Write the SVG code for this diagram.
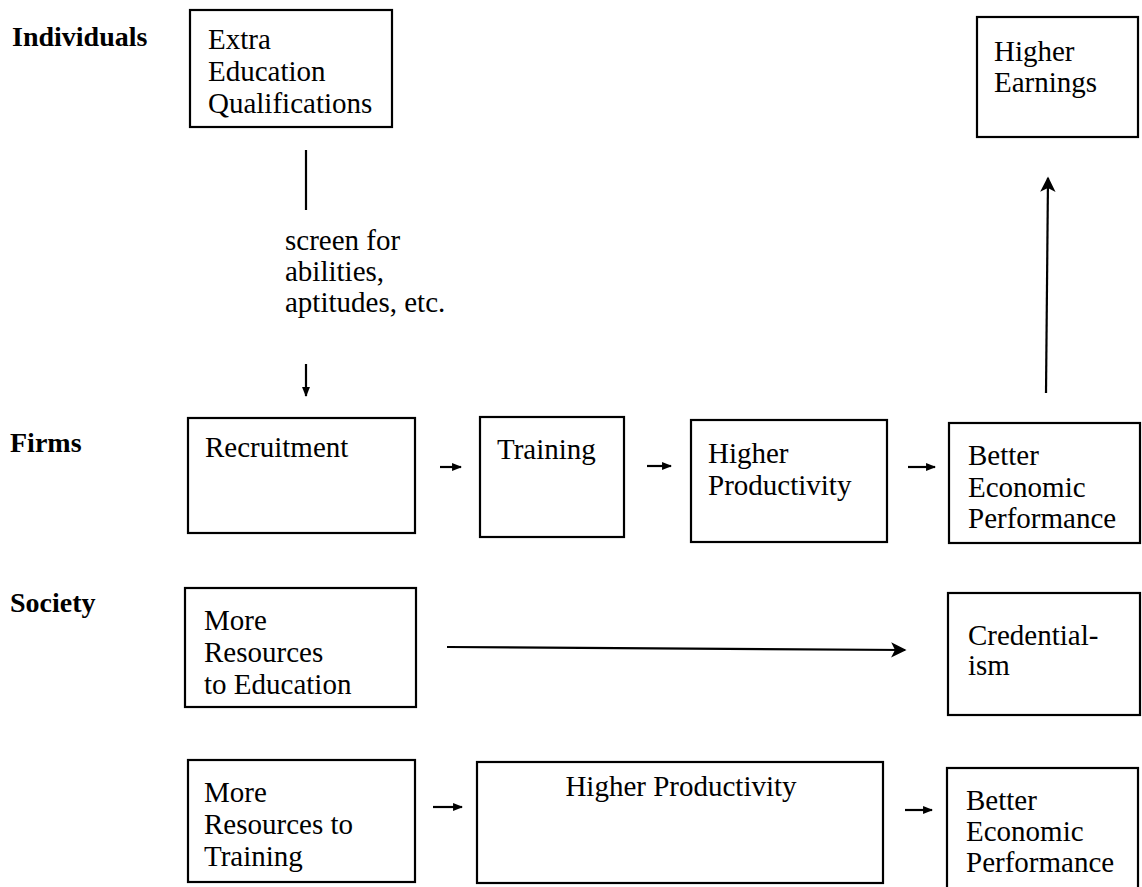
<svg xmlns="http://www.w3.org/2000/svg" width="1142" height="887" viewBox="0 0 1142 887">
<style>
  .box { fill: #fff; stroke: #000; stroke-width: 2.2; }
  .t { font-family: "Liberation Serif", "DejaVu Serif", serif; font-weight: 400; font-style: normal; font-size: 29px; fill: #000; }
  .lbl { font-family: "Liberation Serif", "DejaVu Serif", serif; font-size: 28px; font-weight: 700; fill: #000; }
  .ln { stroke: #000; stroke-width: 2.2; fill: none; }
</style>
<defs>
  <marker id="ah" viewBox="0 0 10 10" refX="9" refY="5" markerWidth="7" markerHeight="7" orient="auto" markerUnits="strokeWidth">
    <path d="M0,0 L10,5 L0,10 L2.5,5 Z" fill="#000"/>
  </marker>
  <marker id="ahs" viewBox="0 0 10 10" refX="9" refY="5" markerWidth="4.5" markerHeight="4.5" orient="auto" markerUnits="strokeWidth">
    <path d="M0,1 L10,5 L0,9 Z" fill="#000"/>
  </marker>
</defs>

<rect width="1142" height="887" fill="#fff"/>

<g id="row-labels">
  <text class="lbl" x="12" y="46">Individuals</text>
  <text class="lbl" x="10" y="452">Firms</text>
  <text class="lbl" x="10" y="612">Society</text>
</g>

<g id="n-extra-education">
  <rect class="box" x="190" y="10" width="202" height="117"/>
  <text class="t" x="208" y="49">Extra</text>
  <text class="t" x="208" y="81">Education</text>
  <text class="t" x="208" y="113">Qualifications</text>
</g>

<g id="n-higher-earnings">
  <rect class="box" x="977" y="17" width="161" height="120"/>
  <text class="t" x="994" y="61">Higher</text>
  <text class="t" x="994" y="92">Earnings</text>
</g>

<g id="n-screen-label">
  <text class="t" x="285" y="250">screen for</text>
  <text class="t" x="285" y="281">abilities,</text>
  <text class="t" x="285" y="312">aptitudes, etc.</text>
</g>

<g id="n-recruitment">
  <rect class="box" x="188" y="418" width="227" height="115"/>
  <text class="t" x="205" y="457">Recruitment</text>
</g>

<g id="n-training">
  <rect class="box" x="480" y="417" width="144" height="120"/>
  <text class="t" x="497" y="459">Training</text>
</g>

<g id="n-higher-productivity-firms">
  <rect class="box" x="691" y="420" width="196" height="122"/>
  <text class="t" x="708" y="463">Higher</text>
  <text class="t" x="708" y="495">Productivity</text>
</g>

<g id="n-better-performance-firms">
  <rect class="box" x="949" y="423" width="191" height="120"/>
  <text class="t" x="968" y="465">Better</text>
  <text class="t" x="968" y="497">Economic</text>
  <text class="t" x="968" y="528">Performance</text>
</g>

<g id="n-resources-education">
  <rect class="box" x="185" y="588" width="231" height="119"/>
  <text class="t" x="204" y="630">More</text>
  <text class="t" x="204" y="662">Resources</text>
  <text class="t" x="204" y="694">to Education</text>
</g>

<g id="n-credentialism">
  <rect class="box" x="948" y="593" width="192" height="122"/>
  <text class="t" x="968" y="645">Credential-</text>
  <text class="t" x="968" y="675">ism</text>
</g>

<g id="n-resources-training">
  <rect class="box" x="188" y="760" width="227" height="122"/>
  <text class="t" x="204" y="802">More</text>
  <text class="t" x="204" y="834">Resources to</text>
  <text class="t" x="204" y="866">Training</text>
</g>

<g id="n-higher-productivity-society">
  <rect class="box" x="477" y="762" width="406" height="121"/>
  <text class="t" x="681" y="796" text-anchor="middle">Higher Productivity</text>
</g>

<g id="n-better-performance-society">
  <rect class="box" x="947" y="768" width="191" height="125"/>
  <text class="t" x="966" y="810">Better</text>
  <text class="t" x="966" y="841">Economic</text>
  <text class="t" x="966" y="872">Performance</text>
</g>

<g id="connectors">
  <line class="ln" x1="306" y1="150" x2="306" y2="210"/>
  <line class="ln" x1="306" y1="364" x2="306" y2="396" marker-end="url(#ahs)"/>
  <line class="ln" x1="440" y1="467" x2="461" y2="467" marker-end="url(#ahs)"/>
  <line class="ln" x1="647" y1="466" x2="671" y2="466" marker-end="url(#ahs)"/>
  <line class="ln" x1="908" y1="467" x2="935" y2="467" marker-end="url(#ahs)"/>
  <line class="ln" x1="1046" y1="393" x2="1048" y2="178" stroke-width="2.6" marker-end="url(#ah)"/>
  <line class="ln" x1="447" y1="647" x2="905" y2="650" stroke-width="2.4" marker-end="url(#ah)"/>
  <line class="ln" x1="433" y1="807" x2="462" y2="807" marker-end="url(#ahs)"/>
  <line class="ln" x1="905" y1="810" x2="932" y2="810" marker-end="url(#ahs)"/>
</g>
</svg>
